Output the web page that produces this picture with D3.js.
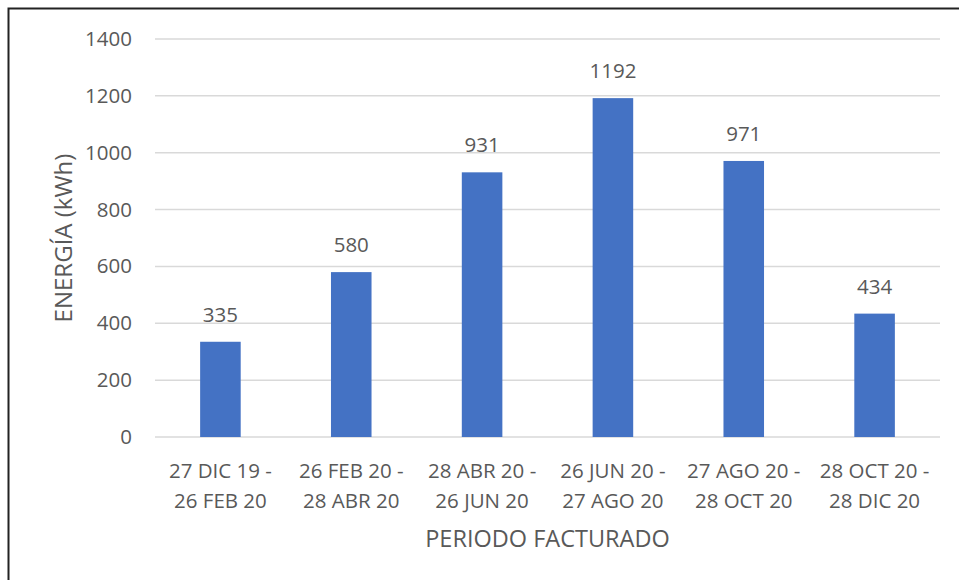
<!DOCTYPE html>
<html>
<head>
<meta charset="utf-8">
<script src="https://cdn.jsdelivr.net/npm/d3@7"></script>
<style>
  body { margin: 0; background: #fff; }
  text { font-family: "Open Sans", Lato, sans-serif; fill: #595959; }
</style>
</head>
<body>
<div id="chart"></div>
<script>
// data
var periodos = [
  ["27 DIC 19 -", "26 FEB 20"],
  ["26 FEB 20 -", "28 ABR 20"],
  ["28 ABR 20 -", "26 JUN 20"],
  ["26 JUN 20 -", "27 AGO 20"],
  ["27 AGO 20 -", "28 OCT 20"],
  ["28 OCT 20 -", "28 DIC 20"]
]
var energia = [335, 580, 931, 1192, 971, 434]
var yTicks = [0, 200, 400, 600, 800, 1000, 1200, 1400]

var width = 959, height = 580
var margin = {left: 155, right: 19, top: 39, bottom: 143}

var svg = d3.select("#chart").append("svg")
  .attr("width", width)
  .attr("height", height)

// frame (only top and left edges show in the picture)
svg.append("path")
  .attr("d", "M8.5,580 V8.5 H959")
  .attr("fill", "none")
  .attr("stroke", "#222")
  .attr("stroke-width", 2)

var x = d3.scaleBand()
  .domain(d3.range(periodos.length))
  .range([margin.left, width - margin.right])
  .paddingInner(0.69)
  .paddingOuter(0.345)

var y = d3.scaleLinear()
  .domain([0, 1400])
  .range([height - margin.bottom, margin.top])

// grid
svg.append("g")
  .selectAll("line")
  .data(yTicks)
  .enter()
  .append("line")
  .attr("x1", margin.left)
  .attr("x2", width - margin.right)
  .attr("y1", function(d) { return y(d) })
  .attr("y2", function(d) { return y(d) })
  .attr("stroke", "#d9d9d9")
  .attr("stroke-width", 1.5)

// y tick labels
svg.append("g")
  .selectAll("text")
  .data(yTicks)
  .enter()
  .append("text")
  .attr("x", 132)
  .attr("y", function(d) { return y(d) + 7 })
  .attr("text-anchor", "end")
  .style("font-size", "20.5px")
  .text(function(d) { return d })

// bars
svg.append("g")
  .selectAll("rect")
  .data(energia)
  .enter()
  .append("rect")
  .attr("x", function(d, i) { return x(i) })
  .attr("y", function(d) { return y(d) })
  .attr("width", x.bandwidth())
  .attr("height", function(d) { return y(0) - y(d) })
  .attr("fill", "#4472c4")

// value labels
svg.append("g")
  .selectAll("text")
  .data(energia)
  .enter()
  .append("text")
  .attr("x", function(d, i) { return x(i) + x.bandwidth() / 2 })
  .attr("y", function(d) { return y(d) - 20 })
  .attr("text-anchor", "middle")
  .style("font-size", "20.5px")
  .text(function(d) { return d })

// x labels, two lines each
var xl = svg.append("g")
  .selectAll("text")
  .data(periodos)
  .enter()
  .append("text")
  .attr("text-anchor", "middle")
  .style("font-size", "20.5px")
xl.append("tspan")
  .attr("x", function(d, i) { return x(i) + x.bandwidth() / 2 })
  .attr("y", 478)
  .text(function(d) { return d[0] })
xl.append("tspan")
  .attr("x", function(d, i) { return x(i) + x.bandwidth() / 2 })
  .attr("y", 508)
  .text(function(d) { return d[1] })

// axis titles
svg.append("text")
  .attr("x", (margin.left + width - margin.right) / 2)
  .attr("y", 547)
  .attr("text-anchor", "middle")
  .style("font-size", "23.5px")
  .text("PERIODO FACTURADO")

svg.append("text")
  .attr("transform", "translate(72," + (y(700)) + ") rotate(-90)")
  .attr("text-anchor", "middle")
  .style("font-size", "24px")
  .text("ENERGÍA (kWh)")
</script>
</body>
</html>
